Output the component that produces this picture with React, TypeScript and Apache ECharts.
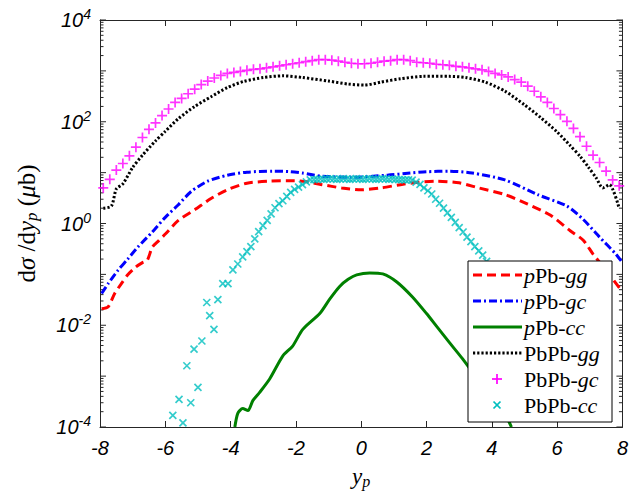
import React, { useEffect, useRef } from "react";
import * as echarts from "echarts";

// ---------- data ----------
const pPbGG: [number, number][] = [
  [-7.95, 0.021], [-7.75, 0.023], [-7.55, 0.042], [-7.35, 0.065], [-7.15, 0.098],
  [-6.9, 0.14], [-6.7, 0.17], [-6.55, 0.19], [-6.4, 0.34], [-6.2, 0.46], [-6.0, 0.62],
  [-5.6, 1.15], [-5.1, 1.86], [-4.6, 3.1], [-4.1, 4.6], [-3.5, 6.2], [-2.8, 6.8],
  [-2.2, 6.9], [-1.8, 6.8], [-1.2, 5.8], [-0.6, 5.0], [0.0, 4.6], [0.6, 5.0],
  [1.2, 5.8], [1.6, 6.3], [2.3, 6.8], [3.0, 6.3], [3.6, 5.0], [4.4, 3.7], [5.1, 2.4],
  [5.8, 1.45], [6.4, 0.72], [6.8, 0.47], [7.1, 0.25], [7.5, 0.12], [7.95, 0.05],
];

const pPbGC: [number, number][] = [
  [-7.95, 0.042], [-7.75, 0.066], [-7.45, 0.12], [-7.15, 0.2], [-6.85, 0.34],
  [-6.4, 0.68], [-6.0, 1.32], [-5.6, 2.34], [-5.2, 4.3], [-4.7, 6.8], [-4.1, 8.9],
  [-3.5, 10.2], [-2.7, 10.7], [-2.2, 10.5], [-1.8, 9.8], [-1.2, 8.5], [-0.3, 8.1],
  [0.8, 8.9], [1.5, 9.8], [2.0, 10.4], [2.7, 10.7], [3.4, 9.8], [4.4, 7.2],
  [5.4, 3.7], [6.3, 2.2], [6.8, 1.2], [7.3, 0.54], [7.8, 0.25], [8.0, 0.17],
];

const pPbCC: [number, number][] = [
  [-3.87, 0.0001], [-3.78, 0.000186], [-3.63, 0.00023], [-3.47, 0.00021],
  [-3.32, 0.00033], [-3.11, 0.00048], [-2.8, 0.00089], [-2.4, 0.0025],
  [-2.1, 0.0039], [-1.79, 0.0083], [-1.27, 0.017], [-0.96, 0.033], [-0.66, 0.058],
  [-0.4, 0.08], [-0.14, 0.098], [0.26, 0.107], [0.66, 0.102], [1.09, 0.071],
  [1.57, 0.036], [2.0, 0.017], [2.31, 0.0095], [2.71, 0.0045], [3.1, 0.0022],
  [3.6, 0.0008], [4.0, 0.00035], [4.45, 0.000155], [4.6, 0.0001],
];

const PbPbGG: [number, number][] = [
  [-7.9, 2.0], [-7.65, 2.2], [-7.5, 4.8], [-7.3, 6.0], [-7.0, 12.6], [-6.7, 22],
  [-6.3, 42], [-6.0, 65], [-5.6, 115], [-5.1, 200], [-4.6, 310], [-4.1, 470],
  [-3.6, 620], [-3.0, 740], [-2.4, 800], [-1.8, 740], [-1.0, 630], [-0.4, 550],
  [0.1, 525], [0.6, 600], [1.2, 700], [1.9, 780], [2.7, 780], [3.2, 740],
  [3.8, 600], [4.4, 400], [5.0, 215], [5.5, 120], [6.0, 63], [6.4, 34], [6.7, 21],
  [6.95, 13], [7.2, 7.8], [7.4, 5.0], [7.6, 5.8], [7.9, 2.0],
];

const PbPbGC: [number, number][] = [
  [-7.9, 5.0], [-7.7, 7.4], [-7.5, 11.2], [-7.3, 15.1], [-7.1, 21.4], [-6.9, 31.6],
  [-6.7, 49], [-6.5, 71], [-6.3, 95], [-6.1, 132], [-5.9, 178], [-5.7, 240],
  [-5.5, 288], [-5.3, 355], [-5.1, 437], [-4.9, 537], [-4.7, 631], [-4.5, 724],
  [-4.3, 813], [-4.1, 891], [-3.9, 933], [-3.7, 977], [-3.5, 1023], [-3.3, 1072],
  [-3.1, 1096], [-2.9, 1148], [-2.7, 1202], [-2.5, 1259], [-2.3, 1318], [-2.1, 1380],
  [-1.9, 1445], [-1.7, 1514], [-1.5, 1585], [-1.3, 1660], [-1.1, 1660], [-0.9, 1622],
  [-0.7, 1549], [-0.5, 1479], [-0.3, 1413], [-0.1, 1380], [0.1, 1380], [0.3, 1413],
  [0.5, 1479], [0.7, 1549], [0.9, 1585], [1.1, 1660], [1.3, 1660], [1.5, 1585],
  [1.7, 1479], [1.9, 1445], [2.1, 1413], [2.3, 1349], [2.5, 1318], [2.7, 1288],
  [2.9, 1230], [3.1, 1202], [3.3, 1148], [3.5, 1096], [3.7, 1047], [3.9, 977],
  [4.1, 891], [4.3, 832], [4.5, 759], [4.7, 676], [4.9, 603], [5.1, 501], [5.3, 398],
  [5.5, 309], [5.7, 240], [5.9, 182], [6.1, 138], [6.3, 102], [6.5, 74], [6.7, 51],
  [6.9, 33], [7.1, 22], [7.3, 15.8], [7.5, 10.7], [7.7, 7.2], [7.9, 5.5],
];

const PbPbCC: [number, number][] = [
  [-5.77, 0.00017], [-5.58, 0.00035], [-5.46, 0.00012], [-5.34, 0.0016],
  [-5.22, 0.0003], [-5.12, 0.0034], [-5.0, 0.0006], [-4.88, 0.0049],
  [-4.73, 0.028], [-4.64, 0.0155], [-4.51, 0.0083], [-4.39, 0.032],
  [-4.24, 0.066], [-4.08, 0.066], [-3.93, 0.123], [-3.78, 0.16], [-3.63, 0.22],
  [-3.5, 0.28], [-3.38, 0.35], [-3.26, 0.5], [-3.14, 0.69], [-3.01, 0.91],
  [-2.88, 1.15], [-2.76, 1.55], [-2.64, 2.04], [-2.52, 2.45], [-2.4, 2.8],
  [-2.28, 3.4], [-2.16, 4.1], [-2.04, 4.7], [-1.92, 5.2], [-1.8, 5.8],
  [-1.68, 6.6], [-1.56, 7.2],
  [-1.45, 7.3], [-1.35, 7.4], [-1.25, 7.5], [-1.15, 7.4], [-1.05, 7.5], [-0.95, 7.6],
  [-0.85, 7.5], [-0.75, 7.4], [-0.65, 7.5], [-0.55, 7.6], [-0.45, 7.5], [-0.35, 7.4],
  [-0.25, 7.5], [-0.15, 7.6], [-0.05, 7.5], [0.05, 7.4], [0.15, 7.5], [0.25, 7.6],
  [0.35, 7.5], [0.45, 7.4], [0.55, 7.5], [0.65, 7.6], [0.75, 7.5], [0.85, 7.4],
  [0.95, 7.5], [1.05, 7.4], [1.15, 7.3], [1.25, 7.3], [1.35, 7.2], [1.45, 7.2],
  [1.56, 7.1], [1.68, 6.5], [1.8, 5.9], [1.92, 5.0], [2.04, 4.4], [2.16, 3.8],
  [2.28, 3.0], [2.4, 2.5], [2.52, 2.0], [2.64, 1.62], [2.76, 1.32], [2.88, 1.05],
  [3.0, 0.83], [3.12, 0.68], [3.24, 0.54], [3.36, 0.44], [3.48, 0.35], [3.6, 0.29],
  [3.72, 0.24], [3.84, 0.18], [3.96, 0.126], [4.2, 0.07], [4.4, 0.035],
  [4.6, 0.012], [4.8, 0.005], [5.0, 0.0022], [5.2, 0.0009], [5.4, 0.0004],
];

const X_MIN = -8;
const X_MAX = 8;
const X_STEP = 2;
const Y_MIN = 1e-4;
const Y_MAX = 1e4;
const Y_LABEL_EVERY = 2; // label every second decade

const LEGEND_LABELS = [
  "{i|p}{r|Pb-}{i|gg}",
  "{i|p}{r|Pb-}{i|gc}",
  "{i|p}{r|Pb-}{i|cc}",
  "{r|PbPb-}{i|gg}",
  "{r|PbPb-}{i|gc}",
  "{r|PbPb-}{i|cc}",
];

// ---------- styles ----------
const SANS = '"Liberation Sans", Arial, Helvetica, sans-serif';
const SERIF = '"Liberation Serif", "DejaVu Serif", serif';
const RED = "#ff0000";
const BLUE = "#0000ff";
const GREEN = "#008000";
const BLACK = "#000000";
const MAGENTA = "#ff00ff";
const CYAN = "#00bfbf";
const AXIS = "#262626";

const PLUS = "path://M5,0L5,10M0,5L10,5";
const CROSS = "path://M0,0L10,10M0,10L10,0";

// tick marks for the log axis (decades + 2..9 sub-ticks)
const yTickData: [number, number, number][] = [];
for (let k = -4; k < 4; k++) {
  for (let m = 1; m <= 9; m++) {
    yTickData.push([0, m * Math.pow(10, k), m === 1 ? 1 : 0]);
  }
}
yTickData.push([0, Y_MAX, 1]);

export default function App() {
  const ref = useRef<HTMLDivElement>(null);

  useEffect(() => {
    if (!ref.current) return;
    const chart = echarts.init(ref.current, null, { renderer: "svg" });

    const tickLabelRich = {
      b: { fontFamily: SANS, fontStyle: "italic", fontSize: 20, color: "#000", lineHeight: 26 },
      s: { fontFamily: SANS, fontStyle: "italic", fontSize: 14, color: "#000", lineHeight: 13, verticalAlign: "top" },
    };

    const legendX = 468;
    const legendY = 261;
    const legendW = 144;
    const legendH = 161;
    const rowY = (i: number) => 275 + i * 26;
    const sampleX1 = 473;
    const sampleX2 = 522;
    const midX = 497;

    const legendRich = {
      i: { fontFamily: SERIF, fontStyle: "italic", fontSize: 22, color: "#000" },
      r: { fontFamily: SERIF, fontSize: 22, color: "#000" },
    };

    const lineSample = (i: number, color: string, dash: number[] | null, width: number) => ({
      type: "line",
      shape: { x1: sampleX1, y1: rowY(i), x2: sampleX2, y2: rowY(i) },
      style: { stroke: color, lineWidth: width, lineDash: dash || undefined },
      z: 101,
    });

    const legendGraphics: any[] = [
      {
        type: "rect",
        shape: { x: legendX, y: legendY, width: legendW, height: legendH },
        style: { fill: "#fff", stroke: "#000", lineWidth: 1 },
        z: 100,
      },
      lineSample(0, RED, [9, 5], 3),
      lineSample(1, BLUE, [8, 3, 2, 3], 3),
      lineSample(2, GREEN, null, 3),
      lineSample(3, BLACK, [2.2, 2], 3),
      {
        type: "line",
        shape: { x1: midX - 5, y1: rowY(4), x2: midX + 5, y2: rowY(4) },
        style: { stroke: MAGENTA, lineWidth: 1.7 },
        z: 101,
      },
      {
        type: "line",
        shape: { x1: midX, y1: rowY(4) - 5, x2: midX, y2: rowY(4) + 5 },
        style: { stroke: MAGENTA, lineWidth: 1.7 },
        z: 101,
      },
      {
        type: "line",
        shape: { x1: midX - 3.5, y1: rowY(5) - 3.5, x2: midX + 3.5, y2: rowY(5) + 3.5 },
        style: { stroke: CYAN, lineWidth: 1.7 },
        z: 101,
      },
      {
        type: "line",
        shape: { x1: midX - 3.5, y1: rowY(5) + 3.5, x2: midX + 3.5, y2: rowY(5) - 3.5 },
        style: { stroke: CYAN, lineWidth: 1.7 },
        z: 101,
      },
      ...LEGEND_LABELS.map((t, i) => ({
        type: "text",
        x: 524,
        y: rowY(i),
        z: 101,
        style: { text: t, rich: legendRich, verticalAlign: "middle", align: "left", fill: "#000" },
      })),
    ];

    const lineSeries = (name: string, data: [number, number][], color: string, type: any, width: number) => ({
      name,
      type: "line",
      data,
      showSymbol: false,
      symbol: "none",
      smooth: 0.25,
      lineStyle: { color, width, type },
      itemStyle: { color },
      z: 3,
    });

    const scatterSeries = (name: string, data: [number, number][], color: string, symbol: string, size: number) => ({
      name,
      type: "scatter",
      data,
      symbol,
      symbolSize: size,
      itemStyle: { color: "rgba(0,0,0,0)", borderColor: color, borderWidth: 1.7 },
      z: 4,
    });

    const axisLine = { show: true, onZero: false, lineStyle: { color: AXIS, width: 1 } };

    chart.setOption({
      animation: false,
      backgroundColor: "#fff",
      grid: { left: 100, top: 20, right: 8, bottom: 62, containLabel: false },
      xAxis: [
        {
          type: "value",
          min: X_MIN,
          max: X_MAX,
          interval: X_STEP,
          position: "bottom",
          axisLine,
          axisTick: { show: true, inside: true, length: 6, lineStyle: { color: AXIS } },
          splitLine: { show: false },
          axisLabel: {
            margin: 11,
            fontFamily: SANS,
            fontStyle: "italic",
            fontSize: 20,
            color: "#000",
          },
          name: "{i|y}{sub|p}",
          nameLocation: "middle",
          nameGap: 36,
          nameTextStyle: {
            rich: {
              i: { fontFamily: SERIF, fontStyle: "italic", fontSize: 23, color: "#000", lineHeight: 26 },
              sub: { fontFamily: SERIF, fontStyle: "italic", fontSize: 16, color: "#000", lineHeight: 12, verticalAlign: "bottom" },
            },
          },
        },
        {
          type: "value",
          min: X_MIN,
          max: X_MAX,
          interval: X_STEP,
          position: "top",
          axisLine,
          axisTick: { show: true, inside: true, length: 6, lineStyle: { color: AXIS } },
          axisLabel: { show: false },
          splitLine: { show: false },
        },
      ],
      yAxis: [
        {
          type: "log",
          logBase: 10,
          min: Y_MIN,
          max: Y_MAX,
          splitNumber: 8,
          position: "left",
          axisLine,
          axisTick: { show: false },
          splitLine: { show: false },
          axisLabel: {
            margin: 9,
            formatter: (v: number) => {
              const e = Math.round(Math.log10(v));
              if (e % Y_LABEL_EVERY !== 0) return "";
              return `{b|10}{s|${e}}`;
            },
            rich: tickLabelRich,
          },
          name: "{r|d}{i|σ}{r| /d}{i|y}{sub|p}{r| (}{i|μ}{r|b)}",
          nameLocation: "middle",
          nameGap: 60,
          nameRotate: 90,
          nameTextStyle: {
            rich: {
              r: { fontFamily: SERIF, fontSize: 25, color: "#000", lineHeight: 28 },
              i: { fontFamily: SERIF, fontStyle: "italic", fontSize: 25, color: "#000", lineHeight: 28 },
              sub: { fontFamily: SERIF, fontStyle: "italic", fontSize: 17, color: "#000", lineHeight: 12, verticalAlign: "bottom" },
            },
          },
        },
        {
          type: "log",
          logBase: 10,
          min: Y_MIN,
          max: Y_MAX,
          splitNumber: 8,
          position: "right",
          axisLine,
          axisTick: { show: false },
          axisLabel: { show: false },
          splitLine: { show: false },
        },
      ],
      series: [
        {
          type: "custom",
          name: "ticks",
          silent: true,
          data: yTickData,
          encode: { x: 0, y: 1 },
          z: 1,
          renderItem: (_params: any, api: any) => {
            const v = api.value(1);
            const major = api.value(2) === 1;
            const l = api.coord([X_MIN, v]);
            const r = api.coord([X_MAX, v]);
            const len = major ? 6 : 3.5;
            const st = { stroke: AXIS, lineWidth: 1 };
            return {
              type: "group",
              children: [
                { type: "line", shape: { x1: l[0], y1: l[1], x2: l[0] + len, y2: l[1] }, style: st },
                { type: "line", shape: { x1: r[0], y1: r[1], x2: r[0] - len, y2: r[1] }, style: st },
              ],
            };
          },
        },
        lineSeries("pPb-gg", pPbGG, RED, [9, 5], 3),
        lineSeries("pPb-gc", pPbGC, BLUE, [8, 3, 2, 3], 3),
        lineSeries("pPb-cc", pPbCC, GREEN, "solid", 3),
        lineSeries("PbPb-gg", PbPbGG, BLACK, [2.2, 2], 3),
        scatterSeries("PbPb-gc", PbPbGC, MAGENTA, PLUS, 10),
        scatterSeries("PbPb-cc", PbPbCC, CYAN, CROSS, 7),
      ],
      graphic: legendGraphics,
    });

    return () => chart.dispose();
  }, []);

  return (
    <div
      ref={ref}
      style={{ position: "absolute", left: 0, top: 0, width: 631, height: 494, background: "#fff" }}
    />
  );
}
